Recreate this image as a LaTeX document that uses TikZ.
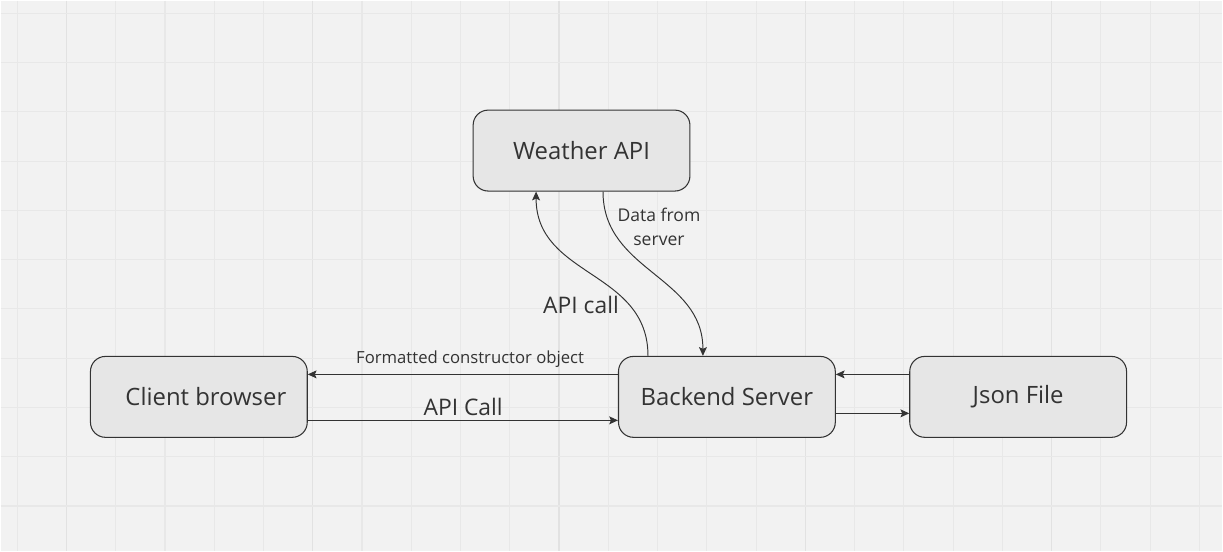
\documentclass[tikz,border=0pt]{standalone}
\usepackage{fontspec}
\setmainfont{Open Sans}
\usepackage{xcolor}
\usetikzlibrary{arrows.meta}
\definecolor{paper}{HTML}{F2F2F2}
\definecolor{gridline}{HTML}{E8E8E8}
\definecolor{gridmajor}{HTML}{E2E2E2}
\definecolor{boxfill}{HTML}{E6E6E6}
\definecolor{ink}{HTML}{333333}

\begin{document}
\begin{tikzpicture}[x=0.02cm, y=-0.02cm,
        block/.style={draw=ink, fill=boxfill, rounded corners=0.3cm, line width=0.6pt,
            minimum width=4.34cm, minimum height=1.62cm, text=ink,
            font=\fontsize{13.6}{16}\selectfont},
        flow/.style={-{Stealth[length=5pt,width=4.5pt,inset=1pt]}, draw=ink, line width=0.55pt},
        small/.style={text=ink, font=\fontsize{9.5}{12}\selectfont},
        big/.style={text=ink, font=\fontsize{13}{16}\selectfont}]
        % Background grid
        \fill[paper] (0,0) rectangle (1223,551);
        \foreach \n in {0,...,24}
            \draw[gridline, line width=0.6pt] ({16.7+49.3*\n},0) -- ({16.7+49.3*\n},551);
        \foreach \n in {1,6,11,16,21}
            \draw[gridmajor, line width=0.8pt] ({16.7+49.3*\n},0) -- ({16.7+49.3*\n},551);
        \foreach \n in {0,...,10}
            \draw[gridline, line width=0.6pt] (0,{12.7+49.3*\n}) -- (1223,{12.7+49.3*\n});
        \useasboundingbox (0,0) rectangle (1223,551);

        % Boxes
        \node[block] (weather) at (581.5,150) {Weather API};
        \node[block] (client) at (198.5,396.5) {\hspace{0.28cm}Client browser};
        \node[block] (backend) at (727,396.5) {Backend Server};
        \node[block] (json) at (1018.5,396.5) {Json File};

        % Client and backend
        \draw[flow] ([yshift=0.45cm]backend.west) -- ([yshift=0.45cm]client.east);
        \draw[flow] ([yshift=-0.47cm]client.east) -- ([yshift=-0.47cm]backend.west);
        \node[small] at (470,359) {Formatted constructor object};
        \node[big] at (463,407) {API Call};

        % Backend and weather
        \draw[flow] ([xshift=-1.58cm]backend.north) .. controls +(0,1.72cm) and +(0,-1.72cm) .. ([xshift=-0.91cm]weather.south);
        \draw[flow] ([xshift=0.43cm]weather.south) .. controls +(0,-1.6cm) and +(0,1.6cm) .. ([xshift=-0.48cm]backend.north);
        \node[big] at (581,304) {API call};
        \node[small, align=center, font=\fontsize{10}{13.6}\selectfont] at (659,226) {Data from\\server};

        % Backend and json
        \draw[flow] ([yshift=0.45cm]json.west) -- ([yshift=0.45cm]backend.east);
        \draw[flow] ([yshift=-0.33cm]backend.east) -- ([yshift=-0.33cm]json.west);
    \end{tikzpicture}
\end{document}
